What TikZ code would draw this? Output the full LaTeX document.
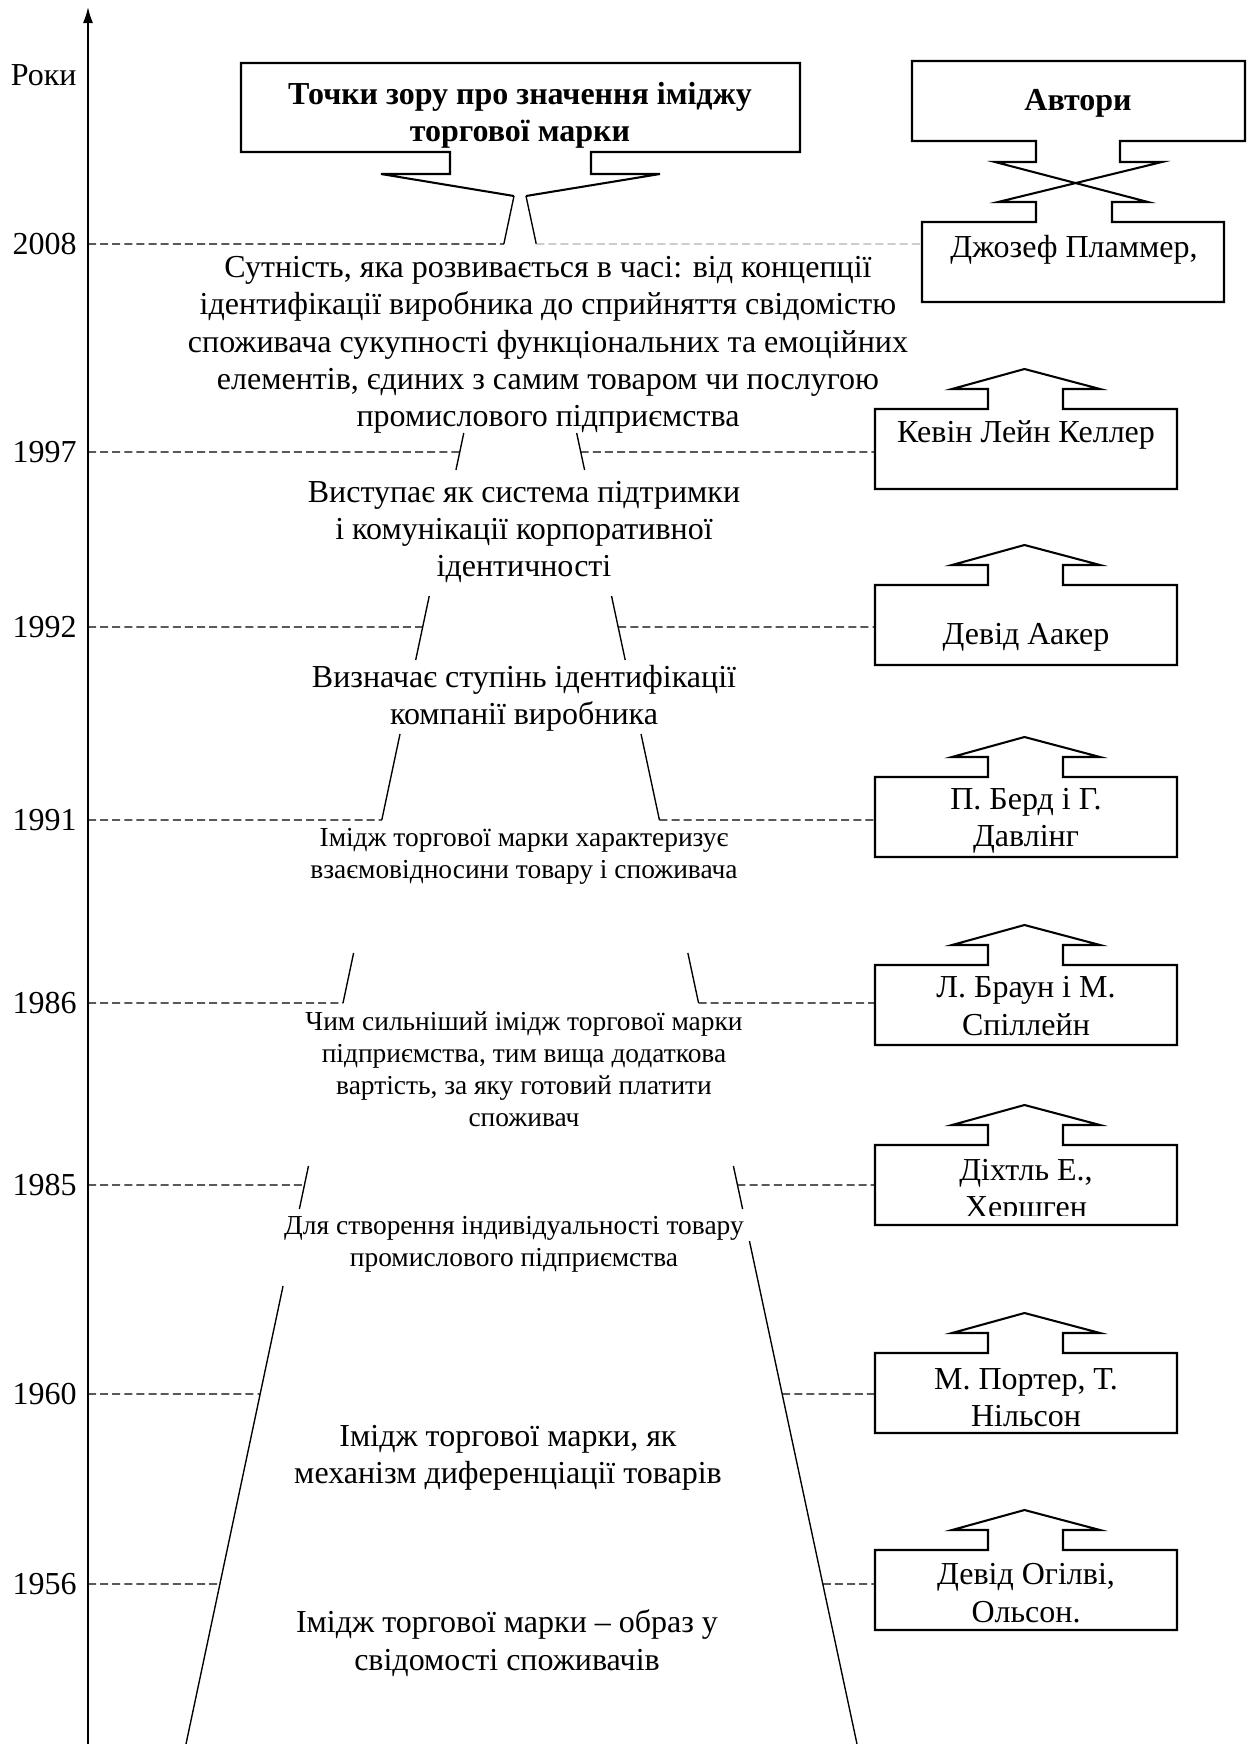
\documentclass[tikz,border=0pt]{standalone}
\usepackage{fontspec}
\setmainfont{Liberation Serif}
\usetikzlibrary{arrows.meta,calc}
\newcommand\txtbig{\fontsize{14}{16.3}\selectfont}
\newcommand\txtsmall{\fontsize{12}{14}\selectfont}
\tikzset{
  frame/.style={line width=0.9pt},
  side/.style={line width=0.6pt},
  guide/.style={line width=0.55pt,dash pattern=on 3.5pt off 1.8pt},
  note/.style={font=\txtbig,align=center,inner sep=0pt},
  smallnote/.style={font=\txtsmall,align=center,inner sep=0pt},
}

\begin{document}
\begin{tikzpicture}[x=0.4375pt,y=-0.4375pt]
\path[use as bounding box] (0,0) rectangle (1250,1744);

% time axis
\coordinate (ax0) at (88,1744);
\coordinate (ax1) at (88,7);
\draw[line width=0.7pt,-{Latex[length=7pt,width=4.4pt]}] (ax0) -- (ax1);
\node[note,anchor=east] (roky) at (77,75) {Роки};

% funnel sides
\coordinate (tl) at (514,196);
\coordinate (tr) at (526,196);
\coordinate (bl) at (186,1744);
\coordinate (br) at (857,1744);
\foreach \ya/\yb in {196/244,433/470,596/660,734/820,953/1003,1166/1209}{
  \draw[side] ($(tl)!{(\ya-196)/1548}!(bl)$) -- ($(tl)!{(\yb-196)/1548}!(bl)$);
  \draw[side] ($(tr)!{(\ya-196)/1548}!(br)$) -- ($(tr)!{(\yb-196)/1548}!(br)$);
}
\draw[side] ($(tl)!{(1286-196)/1548}!(bl)$) -- (bl);
\draw[side] ($(tr)!{(1241-196)/1548}!(br)$) -- (br);

% years and guide lines
\foreach \yr/\yy/\xe/\col in {2008/244/922/gray!60,1997/452/875/black,1992/627/875/black,1991/820/875/black,1986/1003/875/black,1985/1185/875/black,1960/1394/875/black,1956/1584/875/black}{
  \node[note,anchor=east] (yr\yr) at (77,\yy) {\yr};
  \draw[guide] (ax0 |- yr\yr.east) -- ($(tl)!{(\yy-196)/1548}!(bl)$);
  \draw[guide,\col] ($(tr)!{(\yy-196)/1548}!(br)$) -- (\xe,\yy);
}

% title callout
\draw[frame] (tl) -- (381,174) -- (450,174) -- (450,152) -- (241,152) -- (241,63) -- (800,63) -- (800,152) -- (591,152) -- (591,174) -- (660,174) -- (tr);
\node[note,font=\txtbig\bfseries] (title) at (520,115) {Точки зору про значення іміджу\\торгової марки};

% views
\node[note] (essence) at (548,345) {Сутність, яка розвивається в часі: від концепції\\ідентифікації виробника до сприйняття свідомістю\\споживача сукупності функціональних та емоційних\\елементів, єдиних з самим товаром чи послугою\\промислового підприємства};
\node[note] (support) at (524,532) {Виступає як система підтримки\\і комунікації корпоративної\\ідентичності};
\node[note] (degree) at (524,698) {Визначає ступінь ідентифікації\\компанії виробника};
\node[smallnote] (relation) at (524,856) {Імідж торгової марки характеризує\\взаємовідносини товару і споживача};
\node[smallnote] (value) at (524,1069) {Чим сильніший імідж торгової марки\\підприємства, тим вища додаткова\\вартість, за яку готовий платити\\споживач};
\node[smallnote] (identity) at (514,1244) {Для створення індивідуальності товару\\промислового підприємства};
\node[note] (mechanism) at (508,1458) {Імідж торгової марки, як\\механізм диференціації товарів};
\node[note] (imagery) at (507,1643) {Імідж торгової марки – образ у\\свідомості споживачів};

% authors head
\draw[frame] (1036,141) -- (912,141) -- (912,61) -- (1245,61) -- (1245,141) -- (1120,141) -- (1120,162) -- (1162,162) -- (998,202) -- (1036,202) -- (1036,222) -- (922,222) -- (922,302) -- (1224,302) -- (1224,222) -- (1112,222) -- (1112,202) -- (1148,202) -- (995,162) -- (1036,162) -- cycle;
\node[note,font=\txtbig\bfseries] (authors) at (1078,103) {Автори};
\node[note] (plummer) at (1074,250) {Джозеф Пламмер,};

% author boxes
\foreach \T/\ty/\cb/\who [count=\i] in {409/435/80/{Кевін Лейн Келлер},585/637/80/{Девід Аакер},777/821/80/{П. Берд і Г.\\Давлінг},965/1006/80/{Л. Браун і М.\\Спіллейн},1145/1192/70/{Діхтль Е.,\\Хершген},1353/1398/80/{М. Портер, Т.\\Нільсон},1550/1593/80/{Девід Огілві,\\Ольсон.}}{
  \draw[frame] (875,\T) -- (988,\T) -- (988,\T-20) -- (952,\T-20) -- (1024.5,\T-40) -- (1100,\T-20) -- (1063,\T-20) -- (1063,\T) -- (1177,\T) -- (1177,\T+80) -- (875,\T+80) -- cycle;
  \begin{scope}
    \clip (875,\T) rectangle (1177,\T+\cb);
    \node[note] (author\i) at (1026,\ty) {\who};
  \end{scope}
}
\end{tikzpicture}
\end{document}
